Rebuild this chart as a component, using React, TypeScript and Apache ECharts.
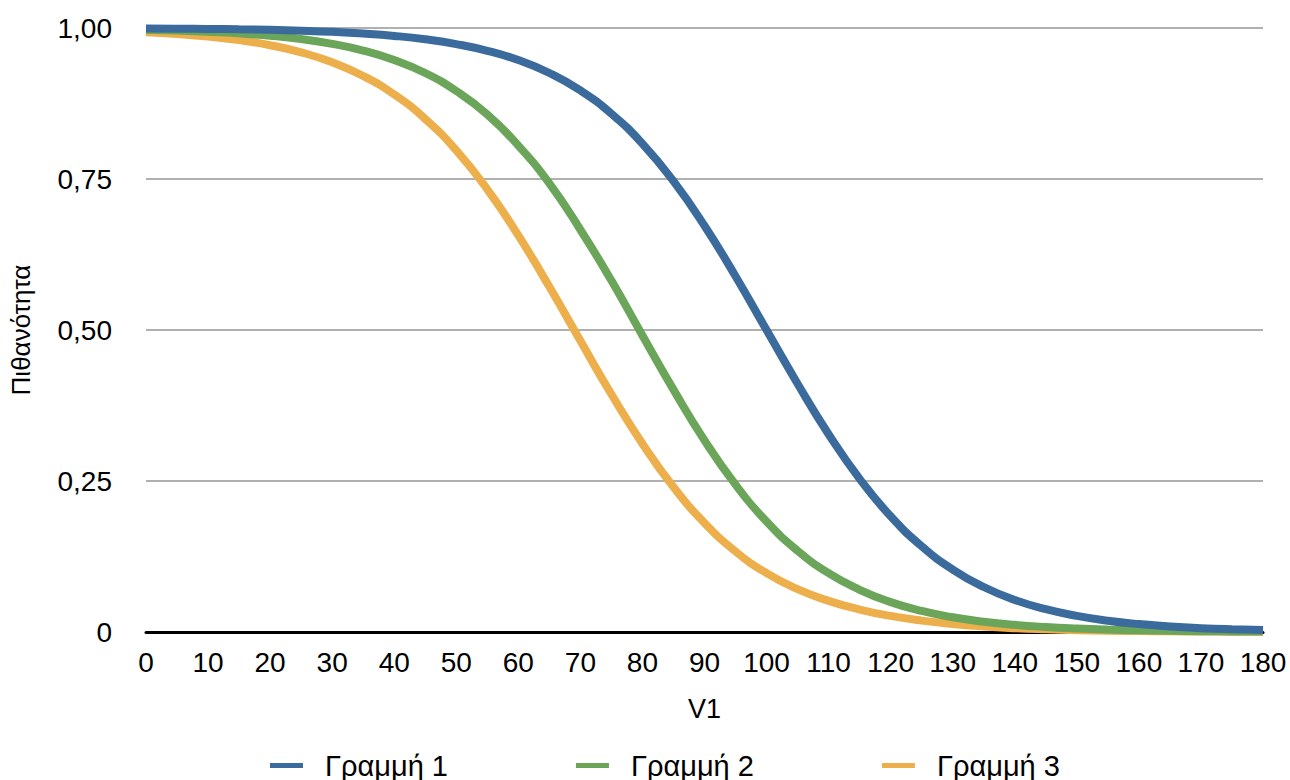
import React, { useEffect, useRef } from "react";
import * as echarts from "echarts";

const xValues = [
  0, 5, 10, 15, 20, 25, 30, 35, 40, 45, 50, 55, 60, 65, 70, 75, 80, 85, 90,
  95, 100, 105, 110, 115, 120, 125, 130, 135, 140, 145, 150, 155, 160, 165,
  170, 175, 180,
];

const line1 = [
  0.9993, 0.9989, 0.9985, 0.9978, 0.9969, 0.9955, 0.9936, 0.9908, 0.9869,
  0.9813, 0.9734, 0.9623, 0.9469, 0.9255, 0.8966, 0.8581, 0.8085, 0.7465,
  0.6726, 0.589, 0.5, 0.411, 0.3274, 0.2535, 0.1915, 0.1419, 0.1034, 0.0745,
  0.0531, 0.0377, 0.0266, 0.0187, 0.0131, 0.0092, 0.0064, 0.0045, 0.0032,
];

const line2 = [
  0.997, 0.9957, 0.9938, 0.9911, 0.9872, 0.9817, 0.9737, 0.9627, 0.9469,
  0.9255, 0.8957, 0.8569, 0.8053, 0.7427, 0.666, 0.5818, 0.4909, 0.4013,
  0.3172, 0.2439, 0.1828, 0.1346, 0.0973, 0.0699, 0.0495, 0.0348, 0.0244,
  0.0171, 0.0119, 0.0083, 0.0058, 0.004, 0.0028, 0.0019, 0.0014, 0.0009,
  0.0007,
];

const line3 = [
  0.9931, 0.9901, 0.9859, 0.9799, 0.9715, 0.9597, 0.9432, 0.9206, 0.8899,
  0.8494, 0.7974, 0.733, 0.6566, 0.5715, 0.482, 0.3936, 0.3117, 0.2401,
  0.1806, 0.1333, 0.0975, 0.071, 0.0515, 0.0372, 0.0266, 0.0188, 0.0132,
  0.0092, 0.0064, 0.0045, 0.0031, 0.0022, 0.0015, 0.0011, 0.0008, 0.0006,
  0.0004,
];

const seriesNames = ["Γραμμή 1", "Γραμμή 2", "Γραμμή 3"];
const seriesColors = ["#3B6B9C", "#6BA559", "#EDAF4B"];
const seriesValues = [line1, line2, line3];

const FONT = "Helvetica, Arial, 'Liberation Sans', sans-serif";

export default function App() {
  const ref = useRef<HTMLDivElement>(null);

  useEffect(() => {
    if (!ref.current) return;
    const chart = echarts.init(ref.current, null, { renderer: "svg" });
    chart.setOption({
      animation: false,
      backgroundColor: "#ffffff",
      textStyle: { fontFamily: FONT },
      grid: { left: 146, right: 27, top: 28, bottom: 148, containLabel: false },
      legend: {
        top: 746,
        left: 265,
        icon: "rect",
        itemWidth: 33,
        itemHeight: 5,
        itemGap: 128,
        textStyle: {
          fontSize: 29,
          color: "#000",
          fontFamily: FONT,
          padding: [0, 0, 0, 17],
        },
        data: seriesNames,
      },
      xAxis: {
        type: "value",
        min: 0,
        max: 180,
        interval: 10,
        name: "V1",
        nameLocation: "middle",
        nameGap: 63,
        nameTextStyle: { fontSize: 27, color: "#000", fontFamily: FONT },
        axisLine: { show: true, lineStyle: { color: "#000", width: 3 } },
        axisTick: { show: false },
        splitLine: { show: false },
        axisLabel: {
          fontSize: 28,
          color: "#000",
          margin: 16,
          fontFamily: FONT,
        },
      },
      yAxis: {
        type: "value",
        min: 0,
        max: 1,
        interval: 0.25,
        name: "Πιθανότητα",
        nameLocation: "middle",
        nameGap: 112,
        nameTextStyle: { fontSize: 26, color: "#000", fontFamily: FONT },
        axisLine: { show: false },
        axisTick: { show: false },
        splitLine: { show: true, lineStyle: { color: "#B0B0B0", width: 2 } },
        axisLabel: {
          fontSize: 28,
          color: "#000",
          margin: 34,
          fontFamily: FONT,
          formatter: (v: number) =>
            v === 0 ? "0" : v.toFixed(2).replace(".", ","),
        },
      },
      series: seriesNames.map((name, i) => ({
        name,
        type: "line",
        smooth: true,
        showSymbol: false,
        z: 10 - i,
        color: seriesColors[i],
        lineStyle: { width: 8, color: seriesColors[i] },
        data: xValues.map((x, j) => [x, seriesValues[i][j]]),
      })),
    });
    return () => chart.dispose();
  }, []);

  return (
    <div
      ref={ref}
      style={{
        position: "fixed",
        left: 0,
        top: 0,
        width: 1290,
        height: 780,
        background: "#fff",
      }}
    />
  );
}
